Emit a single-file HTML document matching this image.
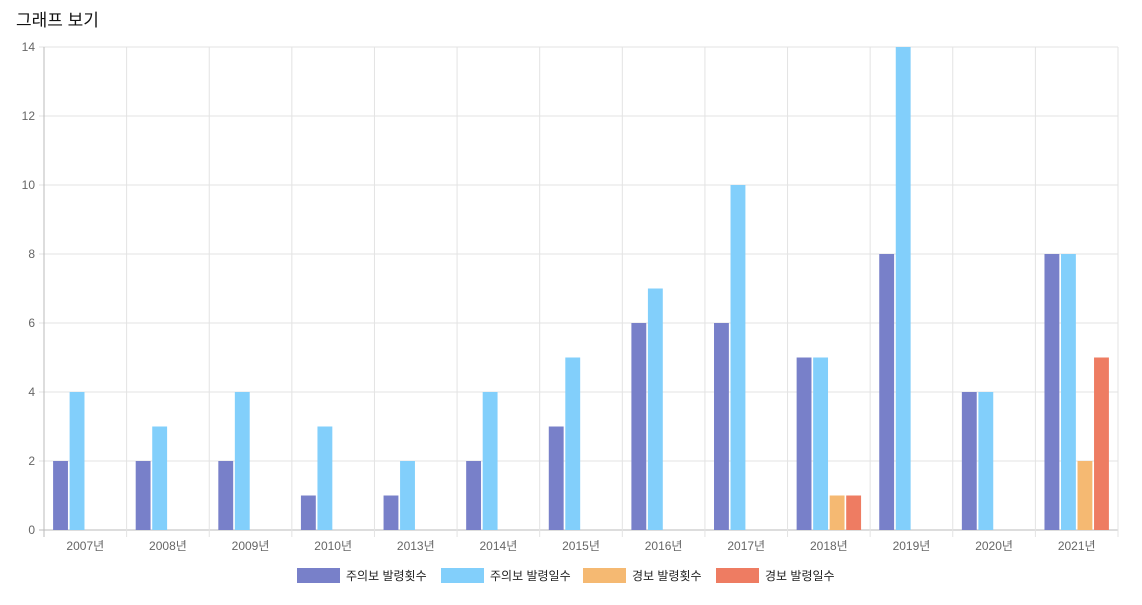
<!DOCTYPE html>
<html><head><meta charset="utf-8">
<style>
body{margin:0;background:#fff;width:1142px;height:605px;overflow:hidden;font-family:"Liberation Sans","Noto Sans CJK KR",sans-serif;}
#title{position:absolute;left:16px;top:6px;font-size:17px;color:#111;}
svg{position:absolute;left:0;top:0;}
</style></head><body>
<div id="title">그래프 보기</div>
<svg id="chart" width="1142" height="605"></svg>
<script>
const categories=["2007년","2008년","2009년","2010년","2013년","2014년","2015년","2016년","2017년","2018년","2019년","2020년","2021년"];
const warnCount=[2,2,2,1,1,2,3,6,6,5,8,4,8];
const warnDays=[4,3,4,3,2,4,5,7,10,5,14,4,8];
const alertCount=[0,0,0,0,0,0,0,0,0,1,0,0,2];
const alertDays=[0,0,0,0,0,0,0,0,0,1,0,0,5];
const yTicks=[0,2,4,6,8,10,12,14];
const seriesNames=["주의보 발령횟수","주의보 발령일수","경보 발령횟수","경보 발령일수"];
const series=[warnCount,warnDays,alertCount,alertDays];
const colors=["#7880c9","#82cffb","#f5b972","#ee7c62"];
const NS="http://www.w3.org/2000/svg";
const svg=document.getElementById('chart');
const L=44,R=1118,T=47,B=530,yMax=14;
const band=(R-L)/categories.length;
const y=v=>B-(v/yMax)*(B-T);
const x=i=>L+i*band;
function mk(t,a){const e=document.createElementNS(NS,t);for(const k in a)e.setAttribute(k,a[k]);svg.appendChild(e);return e;}
yTicks.forEach(t=>{
 const g=mk('line',{x1:L-5,x2:R,y1:y(t),y2:y(t),stroke:t===0?'#bbb':'#e3e3e3'});
 
 
 const tx=mk('text',{x:L-9,y:y(t)+4,'text-anchor':'end','font-size':12,fill:'#666'});
 tx.textContent=t;
 
 
});
for(let i=0;i<=categories.length;i++){
 const g=mk('line',{x1:x(i),x2:x(i),y1:T,y2:B+7,stroke:i===0?'#bbb':'#e3e3e3'});
 
 
}
categories.forEach((c,i)=>{
 const tx=mk('text',{x:x(i)+band/2,y:550,'text-anchor':'middle','font-size':12,fill:'#666'});
 tx.textContent=c;
 
 
 const cw=band*0.8,slot=cw/series.length,bw=slot*0.9;
 series.forEach((s,j)=>{
  if(!s[i])return;
  const bx=x(i)+band*0.1+j*slot+(slot-bw)/2;
  const r=mk('rect',{x:bx,y:y(s[i]),width:bw,height:B-y(s[i]),fill:colors[j]});
  
  
 });
});
const lx=[297,441,583,716];
seriesNames.forEach((n,j)=>{
 const r=mk('rect',{x:lx[j],y:568,width:43,height:15,fill:colors[j]});
 
 
 const t=mk('text',{x:lx[j]+49,y:580,'font-size':12,fill:'#222'});
 t.textContent=n;
 
 
});
</script>
</body></html>
